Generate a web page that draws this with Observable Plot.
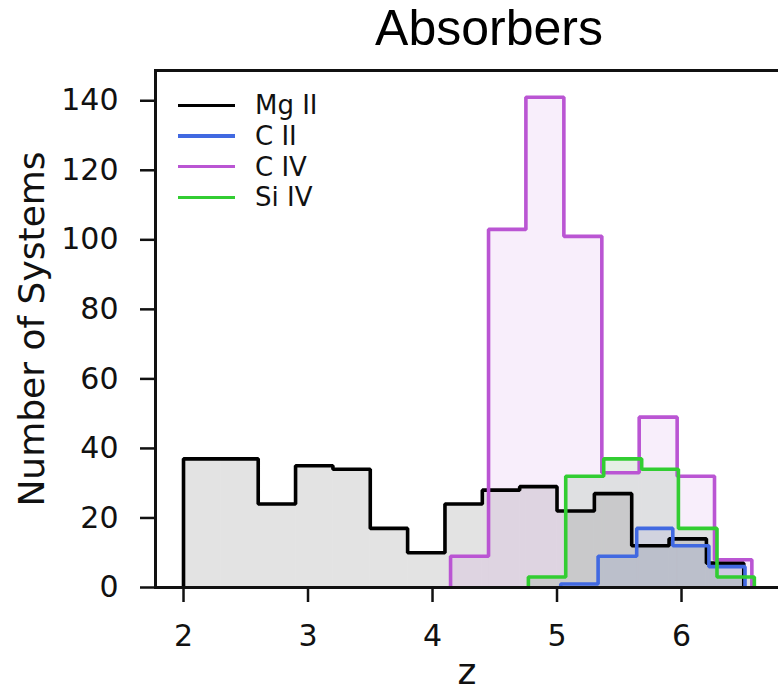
<!DOCTYPE html>
<html><head><meta charset="utf-8">
<script src="https://cdn.jsdelivr.net/npm/d3@7"></script>
<script src="https://cdn.jsdelivr.net/npm/@observablehq/plot@0.6"></script>
<style>
body{margin:0;background:#fff;}
#wrap{position:relative;width:778px;height:695px;overflow:hidden;background:#fff;}
#title{height:62px;line-height:56px;font-family:"Liberation Sans",Arial,sans-serif;font-size:50px;text-align:center;padding-left:200px;box-sizing:border-box;width:778px;color:#000;}
#legend{position:absolute;left:178px;top:90px;font-family:"DejaVu Sans",sans-serif;font-size:26px;color:#111;}
.item{display:flex;align-items:center;height:30.7px;}
.sw{width:57px;height:3.5px;margin-right:20px;}
g[aria-label="x-axis label"] text, g[aria-label="y-axis label"] text{font-size:36px;}
g[aria-label="x-axis label"], g[aria-label="y-axis label"]{font-size:36px;}
</style></head><body>
<div id="wrap"><div id="title">Absorbers</div><div id="chart"></div><div id="legend"></div></div>
<script>
const seriesNames = ["Mg II", "C II", "C IV", "Si IV"];
const lineColors = ["#000000", "#4169e1", "#ba55d3", "#32cd32"];
const fillColors = ["#000000", "#4169e1", "#ba55d3", "#2e7d32"];
const fillOpacities = [0.11, 0.1, 0.1, 0.12];

const mg2Edges = [2.0, 2.3, 2.6, 2.9, 3.2, 3.5, 3.8, 4.1, 4.4, 4.7, 5.0, 5.3, 5.6, 5.9, 6.2, 6.5];
const mg2Counts = [37, 37, 24, 35, 34, 17, 10, 24, 28, 29, 22, 27, 12, 14, 7];

const c2Edges = [5.03, 5.33, 5.64, 5.93, 6.22, 6.51];
const c2Counts = [1, 9, 17, 12, 6];

const c4Edges = [4.145, 4.45, 4.75, 5.055, 5.36, 5.66, 5.965, 6.265, 6.565];
const c4Counts = [9, 103, 141, 101, 33, 49, 32, 8];

const si4Edges = [4.77, 5.07, 5.375, 5.68, 5.975, 6.285, 6.585];
const si4Counts = [3, 32, 37, 34, 17, 3];

const xTicks = [2, 3, 4, 5, 6];
const yTicks = [0, 20, 40, 60, 80, 100, 120, 140];
const xLabel = "z";
const yLabel = "Number of Systems";
const titleText = "Absorbers";

const allEdges = [mg2Edges, c2Edges, c4Edges, si4Edges];
const allCounts = [mg2Counts, c2Counts, c4Counts, si4Counts];

const fills = [];
const lines = [];
seriesNames.forEach((name, s) => {
  const edges = allEdges[s], counts = allCounts[s];
  const bins = counts.map((c, i) => ({series: name, x1: edges[i], x2: edges[i + 1], base: 0, y: c}));
  const pts = [{x: edges[0], y: 0}, ...counts.map((c, i) => ({x: edges[i], y: c})), {x: edges[edges.length - 1], y: 0}];
  fills.push(Plot.rect(bins, {x1: "x1", x2: "x2", y1: "base", y2: "y", fill: fillColors[s], fillOpacity: fillOpacities[s], inset: 0}));
  lines.push(Plot.line(pts, {x: "x", y: "y", curve: "step-after", stroke: lineColors[s], strokeWidth: 3.6, strokeLinejoin: "miter", strokeLinecap: "butt"}));
});

const chart = Plot.plot({
  width: 778,
  height: 633,
  marginTop: 8,
  marginBottom: 108,
  marginLeft: 155,
  marginRight: 0,
  style: {fontFamily: "DejaVu Sans, sans-serif", fontSize: "30px", color: "#111", background: "white", overflow: "visible"},
  x: {domain: [1.775, 6.779]},
  y: {domain: [0, 148.7]},
  marks: [
    ...fills,
    ...lines,
    Plot.axisX({ticks: xTicks, tickFormat: d => String(d), tickSize: 15, tickPadding: 22, strokeWidth: 2.5, label: xLabel, labelAnchor: "center", labelOffset: 96, labelArrow: "none", fontSize: 30}),
    Plot.axisY({ticks: yTicks, tickFormat: d => String(d), tickSize: 15, tickPadding: 22, strokeWidth: 2.5, label: yLabel, labelAnchor: "center", labelOffset: 137, labelArrow: "none", fontSize: 30}),
    Plot.frame({anchor: "left", stroke: "#111", strokeWidth: 3}),
    Plot.frame({anchor: "top", stroke: "#111", strokeWidth: 3}),
    Plot.frame({anchor: "bottom", stroke: "#111", strokeWidth: 3})
  ]
});
document.getElementById("chart").appendChild(chart);
document.getElementById("title").textContent = titleText;

const legend = document.getElementById("legend");
seriesNames.forEach((name, s) => {
  const item = document.createElement("div");
  item.className = "item";
  const sw = document.createElement("div");
  sw.className = "sw";
  sw.style.background = lineColors[s];
  const lab = document.createElement("span");
  lab.textContent = name;
  item.appendChild(sw);
  item.appendChild(lab);
  legend.appendChild(item);
});
</script>
</body></html>
